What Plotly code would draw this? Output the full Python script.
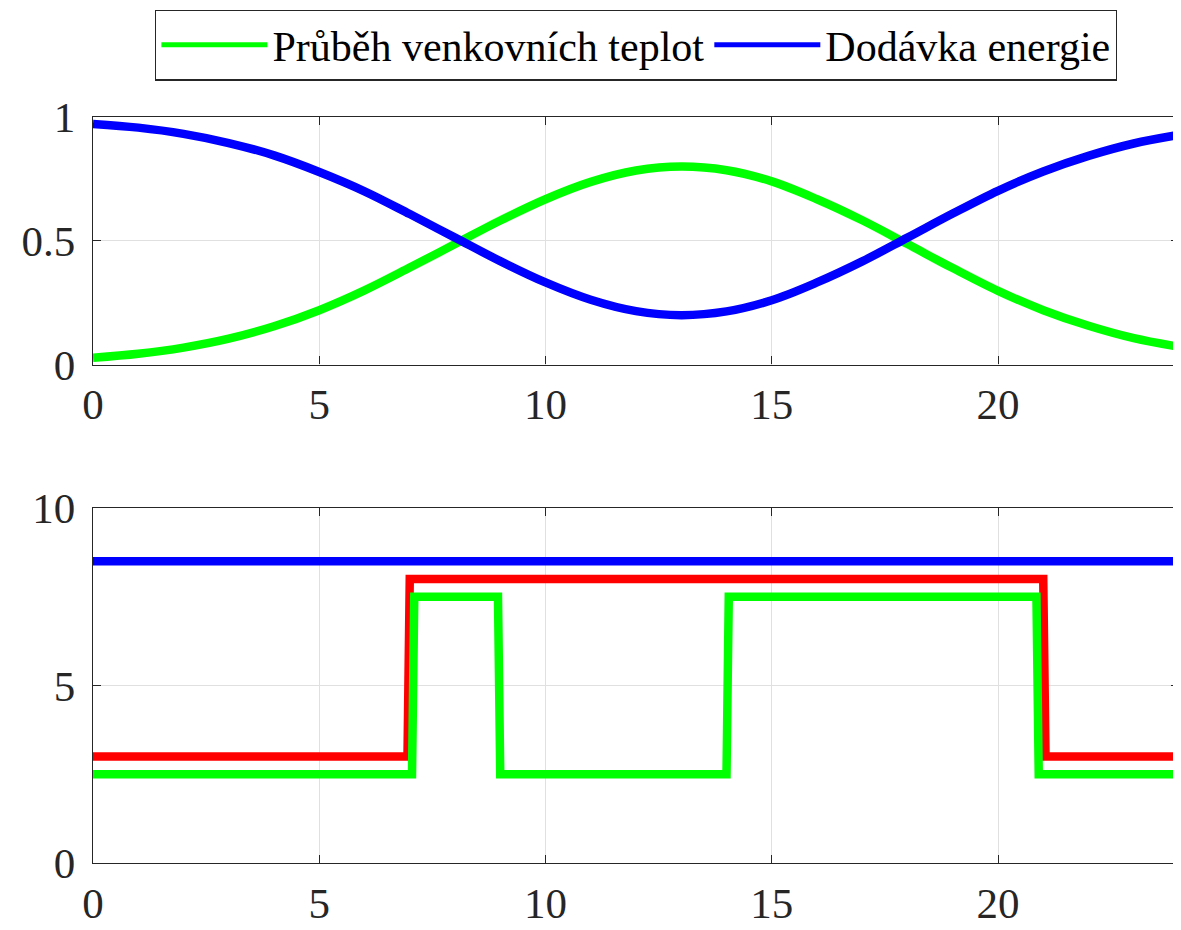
import plotly.graph_objects as go

# ---- data ----
hours = list(range(0, 25))
teplota = [0.028, 0.044, 0.069, 0.105, 0.155, 0.220, 0.300, 0.392, 0.487, 0.582,
           0.668, 0.738, 0.784, 0.800, 0.785, 0.740, 0.668, 0.583, 0.487, 0.390,
           0.298, 0.220, 0.157, 0.107, 0.072]
energie = [0.972, 0.957, 0.932, 0.895, 0.845, 0.778, 0.700, 0.608, 0.513, 0.418,
           0.332, 0.262, 0.216, 0.200, 0.215, 0.260, 0.332, 0.417, 0.513, 0.610,
           0.702, 0.780, 0.843, 0.893, 0.928]

# bottom panel (step signals)
blue_x = [0, 24]
blue_y = [8.5, 8.5]
red_x = [0, 6.95, 7.0, 21.0, 21.05, 24]
red_y = [3, 3, 8, 8, 3, 3]
green_x = [0, 7.05, 7.1, 8.95, 9.0, 14.0, 14.05, 20.85, 20.9, 24]
green_y = [2.5, 2.5, 7.5, 7.5, 2.5, 2.5, 7.5, 7.5, 2.5, 2.5]

x_ticks = [0, 5, 10, 15, 20]
y1_ticks = [0, 0.5, 1]
y1_labels = ["0", "0.5", "1"]
y2_ticks = [0, 5, 10]

GREEN = "#00ff00"
BLUE = "#0000ff"
RED = "#ff0000"
AX = "#262626"
GRID = "#e0e0e0"
FONT = "Liberation Serif"
LW = 8.5

fig = go.Figure()
fig.add_trace(go.Scatter(x=hours, y=teplota, mode="lines", line=dict(color=GREEN, width=LW, shape="spline"),
                         name="Průběh venkovních teplot", xaxis="x", yaxis="y"))
fig.add_trace(go.Scatter(x=hours, y=energie, mode="lines", line=dict(color=BLUE, width=LW, shape="spline"),
                         name="Dodávka energie", xaxis="x", yaxis="y"))
fig.add_trace(go.Scatter(x=blue_x, y=blue_y, mode="lines", line=dict(color=BLUE, width=LW),
                         showlegend=False, xaxis="x2", yaxis="y2"))
fig.add_trace(go.Scatter(x=red_x, y=red_y, mode="lines", line=dict(color=RED, width=LW),
                         showlegend=False, xaxis="x2", yaxis="y2"))
fig.add_trace(go.Scatter(x=green_x, y=green_y, mode="lines", line=dict(color=GREEN, width=LW),
                         showlegend=False, xaxis="x2", yaxis="y2"))

axis_common = dict(showline=True, linecolor=AX, linewidth=1.4, mirror="ticks",
                   ticks="inside", ticklen=8, tickcolor=AX, tickwidth=1.4,
                   showgrid=True, gridcolor=GRID, gridwidth=1, zeroline=False,
                   automargin=False,
                   tickfont=dict(family=FONT, size=43, color=AX))

# page body has an 8px margin; the figure is sized so the page does not overflow
fig.update_layout(
    width=1173, height=922,
    margin=dict(l=85, r=2, t=109, b=67, autoexpand=False),
    paper_bgcolor="white", plot_bgcolor="white",
    font=dict(family=FONT, color=AX),
    xaxis=dict(domain=[0, 1], range=[0, 24], tickvals=x_ticks, anchor="y",
               ticklabelstandoff=2, **axis_common),
    yaxis=dict(domain=[0.668, 1.0], range=[0, 1], tickvals=y1_ticks, ticktext=y1_labels,
               anchor="x", ticklabelstandoff=8, **axis_common),
    xaxis2=dict(domain=[0, 1], range=[0, 24], tickvals=x_ticks, anchor="y2",
                ticklabelstandoff=2, **axis_common),
    yaxis2=dict(domain=[0, 0.476], range=[0, 10], tickvals=y2_ticks, anchor="x2",
                ticklabelstandoff=8, **axis_common),
    legend=dict(orientation="h", x=0.5, xanchor="center", y=1.144, yanchor="top",
                bgcolor="white", bordercolor=AX, borderwidth=1.4,
                font=dict(family=FONT, size=42, color="#000000"),
                itemwidth=106, tracegroupgap=0, itemsizing="constant"),
    showlegend=True,
)

fig.write_html("out.html")
